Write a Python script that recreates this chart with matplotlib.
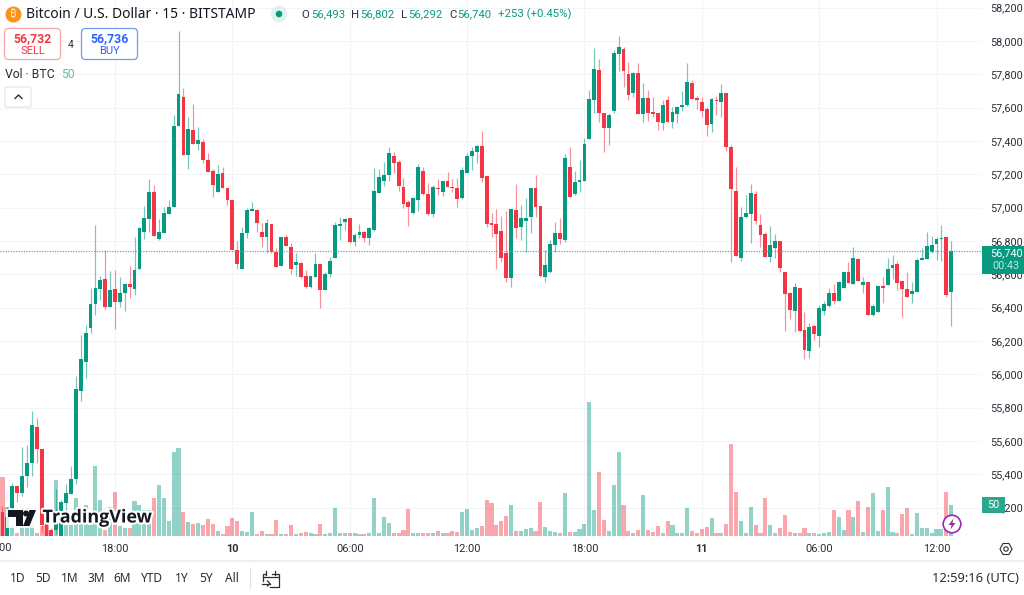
import matplotlib
matplotlib.use("Agg")
import matplotlib.pyplot as plt
import matplotlib.patheffects as pe
from matplotlib.patches import Circle, FancyBboxPatch, Polygon, Rectangle

plt.rcParams['font.family'] = ['Roboto', 'Noto Sans', 'DejaVu Sans']

opens = [55174,54976,55198,55330,55288,55390,55468,55684,55552,55108,55066,55066,55006,55228,55282,55372,55900,56074,56278,56422,
56512,56572,56404,56512,56434,56488,56542,56512,56632,56854,56932,57094,56812,56848,56962,57004,57490,57664,57316,57466,
57382,57394,57286,57220,57094,57208,57118,57046,56746,56632,56848,56980,56986,56854,56824,56902,56734,56650,56824,56764,
56656,56668,56590,56524,56584,56662,56506,56602,56698,56890,56914,56938,56794,56836,56854,56818,56866,57088,57160,57196,
57310,57274,57124,57034,56968,57046,57220,57082,56962,57118,57094,57160,57124,57118,57058,57208,57310,57334,57370,57190,
56908,56902,56860,56728,56578,56986,56884,56920,56944,57118,57010,56584,56614,56776,56848,56806,57244,57082,57154,57160,
57412,57646,57826,57568,57478,57580,57922,57952,57802,57688,57808,57562,57658,57574,57568,57508,57646,57514,57562,57604,
57616,57748,57658,57634,57592,57502,57646,57634,57688,57364,57100,56698,56944,56962,57082,56896,56842,56704,56758,56800,
56614,56488,56380,56518,56266,56140,56290,56230,56380,56410,56488,56440,56518,56614,56542,56692,56536,56554,56356,56374,
56530,56536,56638,56662,56560,56512,56482,56494,56686,56692,56734,56782,56812,56824,56493]
highs = [55210,55204,55348,55336,55564,55576,55780,55738,55552,55114,55078,55312,55246,55342,55450,55990,56236,56296,56518,56896,
56590,56746,56620,56626,56584,56548,56650,56824,56884,57010,57172,57136,56932,57004,57046,57556,58060,57718,57544,57622,
57484,57412,57328,57232,57256,57244,57118,57046,56800,56884,56998,57034,56992,56908,56932,56902,56758,56824,56836,56788,
56728,56674,56626,56590,56728,56662,56614,56704,56914,56944,56938,56938,56848,56902,56860,56884,57238,57232,57274,57364,
57334,57286,57178,57046,57064,57262,57244,57148,57136,57172,57160,57214,57172,57178,57244,57328,57364,57376,57460,57190,
56968,56992,56950,56980,56992,57142,57016,57058,57118,57196,57010,56746,56806,56914,56938,57322,57364,57220,57286,57418,
57706,57958,57892,57568,57568,57946,58030,57964,57874,57814,57868,57748,57706,57664,57568,57646,57670,57604,57610,57700,
57868,57766,57670,57664,57604,57658,57670,57742,57688,57376,57244,57004,57076,57142,57100,56962,56854,56890,56842,56800,
56614,56494,56548,56518,56374,56308,56302,56416,56440,56518,56542,56560,56614,56674,56764,56698,56584,56554,56422,56536,
56584,56698,56716,56680,56560,56614,56554,56698,56758,56854,56830,56824,56896,56824,56802]
lows = [54946,54946,55156,55234,55270,55324,55390,55468,55054,54976,55006,55042,54976,55186,55282,55342,55840,55978,56248,56356,
56446,56392,56404,56272,56404,56380,56458,56476,56632,56812,56854,56830,56806,56848,56962,57004,57490,57316,57232,57382,
57346,57268,57214,57064,57094,57118,57016,56746,56632,56632,56818,56980,56854,56764,56728,56728,56644,56650,56770,56602,
56590,56578,56518,56518,56584,56398,56506,56584,56698,56806,56866,56788,56770,56818,56794,56776,56860,57088,57130,57160,
57208,57100,56998,56890,56962,56980,57076,56956,56944,57076,57070,57124,57094,57004,57052,57208,57226,57268,57154,56884,
56824,56632,56674,56554,56524,56818,56806,56734,56848,56944,56584,56554,56608,56734,56782,56794,57064,57076,57094,57160,
57412,57568,57514,57334,57376,57568,57820,57724,57646,57664,57562,57514,57520,57544,57466,57466,57514,57478,57508,57580,
57610,57652,57592,57544,57430,57454,57556,57544,57340,56674,56710,56680,56938,56788,56902,56764,56704,56674,56698,56614,
56260,56332,56254,56260,56092,56098,56206,56164,56356,56404,56422,56440,56518,56548,56542,56560,56488,56356,56350,56374,
56428,56536,56572,56506,56344,56464,56428,56494,56686,56692,56728,56686,56680,56464,56292]
closes = [54976,55144,55330,55288,55390,55468,55696,55552,55096,55006,55030,55186,55234,55288,55372,55912,56092,56248,56422,56518,
56566,56404,56506,56434,56488,56542,56524,56626,56878,56938,57094,56830,56854,56968,57004,57490,57682,57316,57472,57382,
57406,57286,57214,57136,57202,57118,57046,56746,56662,56848,56986,56992,56908,56824,56908,56734,56644,56824,56770,56632,
56674,56584,56524,56590,56662,56506,56602,56680,56896,56902,56932,56794,56836,56854,56818,56878,57100,57184,57196,57328,
57268,57130,57022,57004,57058,57244,57082,56962,57124,57110,57160,57124,57118,57052,57226,57310,57340,57370,57178,56902,
56899,56842,56698,56578,56992,56878,56938,56938,57118,57004,56590,56656,56782,56848,56812,57298,57064,57154,57166,57382,
57652,57832,57568,57478,57556,57928,57964,57820,57676,57808,57562,57658,57568,57562,57514,57616,57514,57574,57604,57616,
57754,57652,57646,57580,57496,57652,57640,57688,57364,57112,56710,56944,56968,57088,56920,56836,56704,56776,56800,56638,
56482,56386,56524,56260,56146,56284,56242,56398,56422,56488,56440,56554,56614,56548,56698,56560,56554,56356,56410,56530,
56518,56632,56656,56548,56512,56464,56500,56686,56698,56770,56776,56812,56818,56476,56740]
volumes = [91.5,46,17,4,17,20,17,5,15,17,8,87,17,17,17,59,38,49,17,110,
56,10,46,69,15,12,13,55,49,40,41,60,80,60,24,131,137,38,22,18,
21,17,26,18,8,3,16,28,23,8,6,38,3,8,3,3,25,3,3,17,
3,4,7,4,3,19,3,4,43,4,4,5,5,3,3,4,60,4,29,20,
4,4,9,42,5,5,4,4,4,8,4,4,8,6,37,42,9,13,16,56,
51,17,23,31,49,8,8,11,12,8,53,14,8,6,5,67,6,6,11,18,
209,40,100,25,8,80,132,48,8,4,9,64,9,6,16,4,24,17,5,4,
44,8,5,11,14,28,5,4,19,144,69,24,5,46,17,4,60,17,4,12,
33,6,5,4,13,4,5,3,4,6,41,29,9,41,29,54,6,45,67,8,
41,77,6,4,34,43,3,36,13,13,5,11,11,68,49]
price_ticks = [58200,58000,57800,57600,57400,57200,57000,56800,56600,56400,56200,56000,55800,55600,55400,55200]
time_ticks = [23,47,71,95,119,143,167,191]
time_labels = ['18:00','10','06:00','12:00','18:00','11','06:00','12:00']
last_price = 56740
bars = list(range(len(opens)))

UP, DOWN = '#089981', '#F23645'
TXT = '#2a2e39'
W, H = 1024, 595
CHART_R, CHART_B = 982, 536
rect = [0, (H - CHART_B) / H, CHART_R / W, CHART_B / H]
xlim = (-0.511, 200.3)
ylim = (55030, 58246)
vol_max = 837.5
NOTO = ['Noto Sans', 'DejaVu Sans']

fig = plt.figure(figsize=(W / 100, H / 100), dpi=100, facecolor='white')

gax = fig.add_axes(rect, zorder=1)
gax.set_xlim(*xlim); gax.set_ylim(*ylim)
gax.set_xticks(time_ticks); gax.set_yticks(price_ticks)
gax.tick_params(length=0, labelbottom=False, labelleft=False)
gax.grid(True, color='#f3f4f6', lw=0.8)
gax.set_axisbelow(True)
for s in gax.spines.values():
    s.set_visible(False)

colors = [UP if c >= o else DOWN for o, c in zip(opens, closes)]

vax = fig.add_axes(rect, zorder=2)
vax.patch.set_visible(False)
vax.set_xlim(*xlim); vax.set_ylim(0, vol_max)
vax.bar(bars, volumes, width=0.84, color=colors, alpha=0.44, linewidth=0)
vax.axis('off')

ax = fig.add_axes(rect, zorder=3)
ax.patch.set_visible(False)
ax.set_xlim(*xlim); ax.set_ylim(*ylim)
ax.vlines(bars, lows, highs, colors=colors, linewidth=0.85, alpha=0.55)
ax.bar(bars, [abs(c - o) for o, c in zip(opens, closes)],
       bottom=[min(o, c) for o, c in zip(opens, closes)],
       width=0.78, color=colors, linewidth=0)
ax.axhline(last_price, color='#3fb3a0', ls=(0, (1, 1.2)), lw=0.85)
ax.yaxis.tick_right()
ax.set_yticks(price_ticks)
ax.set_yticklabels([f'{p:,}' for p in price_ticks], fontsize=7.8, color=TXT)
ax.set_xticks(time_ticks)
ax.set_xticklabels(time_labels, fontsize=7.9, color=TXT)
for t, lab in zip(ax.get_xticklabels(), time_labels):
    if len(lab) == 2:
        t.set_fontweight('bold')
ax.tick_params(axis='y', length=0, pad=5.6)
ax.tick_params(axis='x', length=0, pad=5.5)
for s in ax.spines.values():
    s.set_visible(False)

ov = fig.add_axes([0, 0, 1, 1], zorder=4)
ov.patch.set_visible(False)
ov.set_xlim(0, W); ov.set_ylim(H, 0)
ov.axis('off')

def T(x, y, s, size=7.8, color=TXT, ha='left', va='center', **kw):
    return ov.text(x, y, s, fontsize=size, color=color, ha=ha, va=va, **kw)

T(-2.4, 548, '12:00', ha='center', size=7.9)

# header
ov.add_patch(Circle((13.5, 14.5), 8, fc='#f7931a', ec='none'))
T(13.5, 14.5, '₿', size=8, color='#ffe2b8', ha='center', weight='bold',
  family=['Noto Sans', 'Roboto', 'Open Sans', 'Lato', 'Inter', 'Liberation Sans', 'DejaVu Sans'])
T(25.5, 14.5, 'Bitcoin / U.S. Dollar · 15 · BITSTAMP', size=10, family=NOTO, color='#131722')
ov.add_patch(Circle((279, 14), 8.3, fc='#dff2ee', ec='none'))
ov.add_patch(Circle((279, 14), 3.3, fc=UP, ec='none'))
for x, lab, xv, val in [(301.5, 'O', 311, '56,493'), (351.5, 'H', 360.5, '56,802'),
                        (401, 'L', 408, '56,292'), (449, 'C', 457, '56,740')]:
    T(x, 14.5, lab, size=8.2)
    T(xv, 14.5, val, size=8.2, color=UP)
T(498, 14.5, '+253 (+0.45%)', size=8.2, color=UP)

# buy / sell
for x0, ec, col, price, lab in [(4.5, '#f9a7ad', DOWN, '56,732', 'SELL'), (81.5, '#6d9bf5', '#2962FF', '56,736', 'BUY')]:
    ov.add_patch(FancyBboxPatch((x0 + 3, 31.5), 50, 25, boxstyle='round,pad=3,rounding_size=4',
                                fc='white', ec=ec, lw=0.9))
    T(x0 + 28, 38.5, price, size=8.8, color=col, ha='center', weight='bold')
    T(x0 + 28, 51, lab, size=8, color=col, ha='center')
T(71, 44.5, '4', size=7.4, ha='center')
T(5, 74, 'Vol · BTC', size=8.8)
T(61, 74, '50', size=8.8, color='#5cbfae')
ov.add_patch(FancyBboxPatch((7, 89), 22, 16, boxstyle='round,pad=2,rounding_size=2', fc='white', ec='#e4e6ec', lw=0.9))
ov.plot([15, 18.5, 22], [98.5, 95, 98.5], color=TXT, lw=1.0)

# price tags
ov.add_patch(Rectangle((982, 246), 42, 28, fc=UP, ec='none'))
T(1006, 253.5, '56,740', color='white', ha='center', size=7.8)
T(1006, 266, '00:43', color='#bfe8df', ha='center', size=7.8)
ov.add_patch(Rectangle((982, 497), 23, 16, fc='#2aa78f', ec='none'))
T(993.5, 505, '50', color='white', ha='center', size=7.8)

# logo
halo = [pe.withStroke(linewidth=3, foreground='white')]
T(42.5, 517.5, 'TradingView', size=12.9, color='#131722', weight='bold', family='Open Sans', path_effects=halo)
ov.add_patch(Rectangle((6, 508.5), 32, 19.5, fc='white', ec='none', alpha=0.85))
ov.add_patch(Polygon([(8, 510), (22.5, 510), (22.5, 526), (15.5, 526), (15.5, 517), (8, 517)], fc='#131722', ec='none'))
ov.add_patch(Circle((26, 513.5), 3, fc='#131722', ec='none'))
ov.add_patch(Polygon([(29.5, 510), (36, 510), (29.5, 526), (23, 526)], fc='#131722', ec='none'))

# lightning badge
ov.add_patch(Circle((952, 524), 8.8, fc='white', ec='#9c27b0', lw=1.2))
ov.add_patch(Polygon([(953.5, 518.5), (948.5, 525), (951.5, 525), (950.5, 529.5), (955.5, 523), (952.5, 523)], fc='#9c27b0', ec='none'))

# gear
ov.add_patch(Polygon([(1000, 549), (1003, 543.5), (1009, 543.5), (1012, 549), (1009, 554.5), (1003, 554.5)],
                     fc='white', ec=TXT, lw=0.8))
ov.add_patch(Circle((1006, 549), 2.2, fc='white', ec=TXT, lw=0.8))

# bottom bar
ov.plot([0, W], [560.5, 560.5], color='#eeeef4', lw=1.5)
for x, s in [(17.5, '1D'), (43, '5D'), (69.5, '1M'), (96, '3M'), (122.5, '6M'), (152, 'YTD'), (182, '1Y'), (206.5, '5Y'), (232, 'All')]:
    T(x, 578.5, s, ha='center', size=8.6, family=NOTO)
ov.plot([249.5, 249.5], [568, 588], color='#e0e3eb', lw=0.8)
ov.plot([265, 262.5, 262.5], [574, 574, 581], color=TXT, lw=0.9)
ov.plot([272, 278.5, 278.5, 270], [574, 574, 587, 587], color=TXT, lw=0.9)
ov.plot([262.5, 278.5], [576.5, 576.5], color=TXT, lw=0.9)
ov.plot([266, 266], [571, 575], color=TXT, lw=0.9)
ov.plot([274.5, 274.5], [571, 575], color=TXT, lw=0.9)
ov.plot([262, 270], [583.5, 583.5], color=TXT, lw=0.9)
ov.plot([267.5, 270, 267.5], [581, 583.5, 586], color=TXT, lw=0.9)
T(1019, 578.5, '12:59:16 (UTC)', ha='right', size=9.3, family=NOTO)

fig.savefig('out.png', dpi=100, facecolor='white')
